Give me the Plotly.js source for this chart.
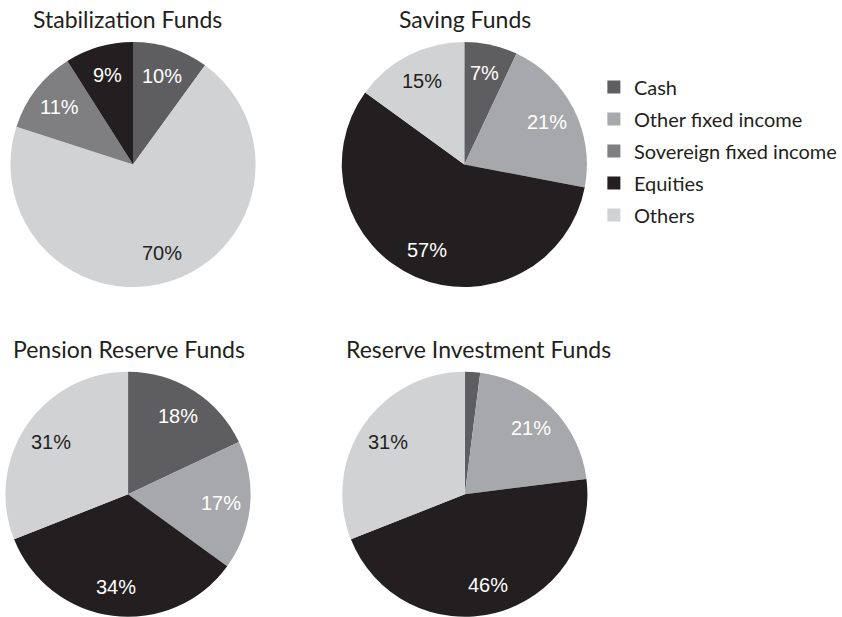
<!DOCTYPE html>
<html>
<head>
<meta charset="utf-8">
<script src="https://cdn.plot.ly/plotly-3.0.1.min.js"></script>
<style>html,body{margin:0;padding:0;background:#fff}#chart{width:842px;height:617px}</style>
</head>
<body>
<div id="chart"></div>
<script>
// ---- data ----
const legendLabels = ["Cash", "Other fixed income", "Sovereign fixed income", "Equities", "Others"];

const stabilizationLabels = ["Cash", "Others", "Sovereign fixed income", "Equities"];
const stabilizationValues = [10, 70, 11, 9];

const savingLabels = ["Cash", "Other fixed income", "Equities", "Others"];
const savingValues = [7, 21, 57, 15];

const pensionLabels = ["Cash", "Other fixed income", "Equities", "Others"];
const pensionValues = [18, 17, 34, 31];

const reserveLabels = ["Cash", "Other fixed income", "Equities", "Others"];
const reserveValues = [2, 21, 46, 31];

const titles = ["Stabilization Funds", "Saving Funds", "Pension Reserve Funds", "Reserve Investment Funds"];

// ---- styling / layout ----
const W = 842, H = 617;
const colorOf = {
  "Cash": "#5e5e60",
  "Other fixed income": "#a7a8ab",
  "Sovereign fixed income": "#7f7f82",
  "Equities": "#231f20",
  "Others": "#d1d2d4"
};
const textColorOf = l => (l === "Others" ? "#231f20" : "#ffffff");

// pie geometry in pixels: centre x, centre y, radius
const geo = [
  {cx: 133.5, cy: 164.5, r: 123},
  {cx: 466, cy: 164.5, r: 123},
  {cx: 128.5, cy: 494.5, r: 123},
  {cx: 466.5, cy: 494.5, r: 123}
];
const LABEL_R = 0.76;

function dom(g) {
  return {x: [(g.cx - g.r) / W, (g.cx + g.r) / W], y: [1 - (g.cy + g.r) / H, 1 - (g.cy - g.r) / H]};
}

function pie(labels, values, g) {
  return {
    type: "pie",
    labels: labels,
    values: values,
    textinfo: "none",
    sort: false,
    direction: "clockwise",
    rotation: 0,
    domain: dom(g),
    marker: {colors: labels.map(l => colorOf[l]), line: {width: 0}},
    showlegend: false,
    hoverinfo: "label+percent"
  };
}

// percentage labels placed along each slice's bisector, derived from the values
function sliceLabels(labels, values, g) {
  const total = values.reduce((a, b) => a + b, 0);
  let cum = 0;
  const out = [];
  values.forEach((v, i) => {
    const mid = (cum + v / 2) / total * 2 * Math.PI;
    cum += v;
    if (v / total < 0.03) return;
    const px = g.cx + LABEL_R * g.r * Math.sin(mid);
    const py = g.cy - LABEL_R * g.r * Math.cos(mid);
    out.push({
      text: Math.round(v / total * 100) + "%",
      xref: "paper", yref: "paper", x: px / W, y: 1 - py / H,
      xanchor: "center", yanchor: "middle", showarrow: false,
      font: {family: "Liberation Sans, Arial, sans-serif", size: 20, color: textColorOf(labels[i])}
    });
  });
  return out;
}

const pies = [
  [stabilizationLabels, stabilizationValues],
  [savingLabels, savingValues],
  [pensionLabels, pensionValues],
  [reserveLabels, reserveValues]
];

const data = pies.map((p, i) => pie(p[0], p[1], geo[i]));

// legend entries (one per category)
legendLabels.forEach(l => {
  data.push({
    type: "scatter", mode: "markers", x: [null], y: [null],
    name: l, legendgroup: l, showlegend: true, hoverinfo: "skip",
    marker: {symbol: "square", size: 13, color: colorOf[l], line: {width: 0}}
  });
});

let annotations = [];
pies.forEach((p, i) => { annotations = annotations.concat(sliceLabels(p[0], p[1], geo[i])); });

const titlePos = [[128, 18.5], [466.5, 18.5], [129.5, 349], [480, 349]];
titles.forEach((t, i) => annotations.push({
  text: t, xref: "paper", yref: "paper",
  x: titlePos[i][0] / W, y: 1 - titlePos[i][1] / H,
  xanchor: "center", yanchor: "middle", showarrow: false,
  font: {family: "Lato, sans-serif", size: 23, color: "#231f20"}
}));

const layout = {
  width: W, height: H,
  margin: {l: 0, r: 0, t: 0, b: 0},
  paper_bgcolor: "#ffffff",
  plot_bgcolor: "rgba(0,0,0,0)",
  xaxis: {visible: false, domain: [0.99, 1]},
  yaxis: {visible: false, domain: [0.99, 1]},
  showlegend: true,
  legend: {
    x: 596 / W, xanchor: "left", y: 1 - 151 / H, yanchor: "middle",
    font: {family: "Lato, sans-serif", size: 20, color: "#231f20"},
    traceorder: "grouped", tracegroupgap: 3, bgcolor: "rgba(0,0,0,0)"
  },
  annotations: annotations
};

Plotly.newPlot("chart", data, layout, {displayModeBar: false, staticPlot: true});
</script>
</body>
</html>
